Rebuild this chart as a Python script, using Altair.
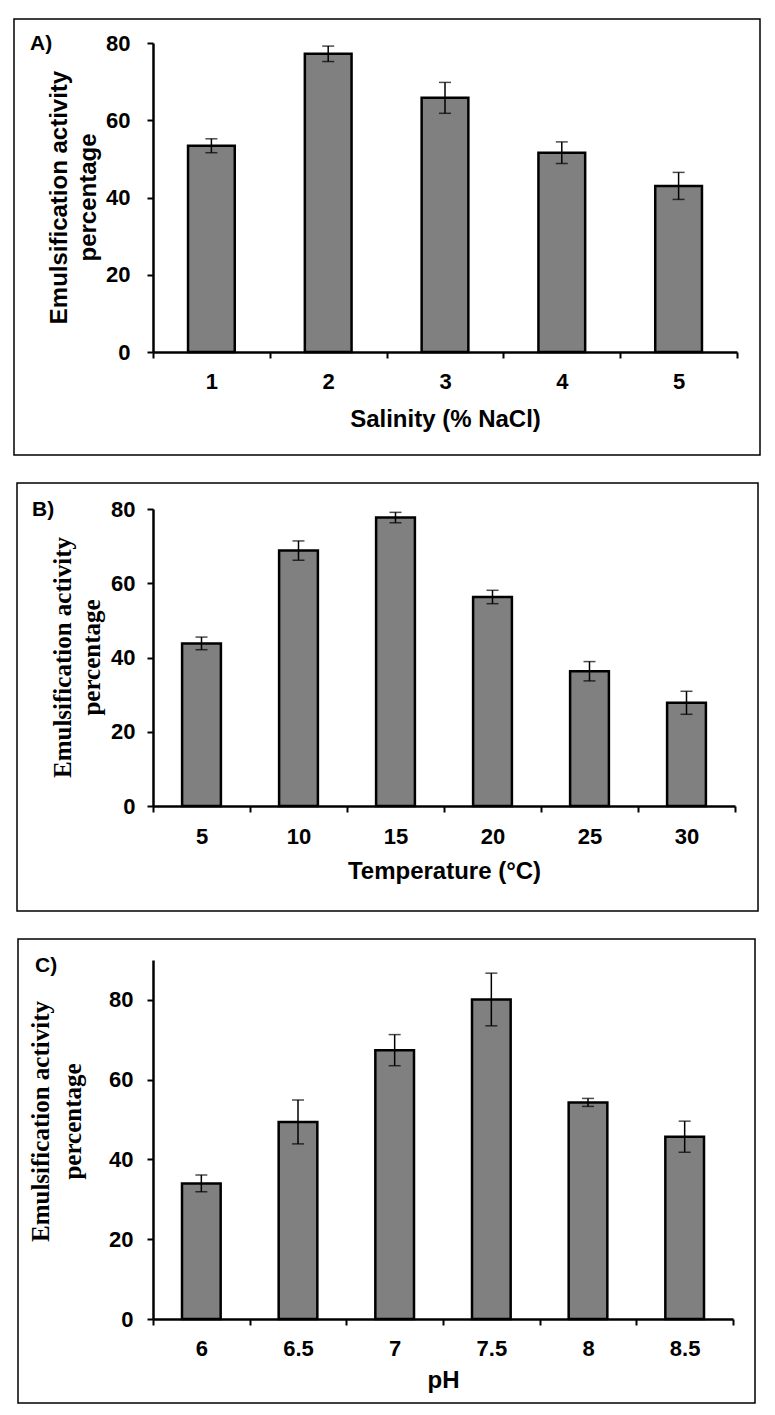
import altair as alt
import pandas as pd

# ---- data ----
sal_cats = ["1", "2", "3", "4", "5"]
sal_mean = [53.4, 77.2, 65.8, 51.6, 43.0]
sal_err = [1.8, 2.0, 4.0, 2.8, 3.5]

temp_cats = ["5", "10", "15", "20", "25", "30"]
temp_mean = [43.8, 68.8, 77.7, 56.3, 36.3, 27.8]
temp_err = [1.7, 2.6, 1.4, 1.8, 2.6, 3.1]

ph_cats = ["6", "6.5", "7", "7.5", "8", "8.5"]
ph_mean = [34.0, 49.4, 67.4, 80.1, 54.3, 45.7]
ph_err = [2.1, 5.5, 3.9, 6.6, 1.0, 3.9]

y_ticks = [0, 20, 40, 60, 80]
y_title = ["Emulsification activity", "percentage"]

SANS = "Liberation Sans, Arial, sans-serif"
SERIF = "Liberation Serif, Times New Roman, serif"


def panel(cats, means, errs, xtitle, ytfont, letter, w, h, ymax, g):
    df = pd.DataFrame({
        "cat": cats,
        "mean": means,
        "lo": [m - e for m, e in zip(means, errs)],
        "hi": [m + e for m, e in zip(means, errs)],
    })
    xscale = alt.Scale(domain=cats, paddingInner=0, paddingOuter=0)
    yscale = alt.Scale(domain=[0, ymax], nice=False, zero=True)
    xaxis = alt.Axis(
        title=xtitle, tickBand="extent", labelAngle=0,
        labelPadding=g["xlp"], titleY=g["xty"], titleBaseline="alphabetic",
    )
    yaxis = alt.Axis(
        title=y_title, values=y_ticks, titleFont=ytfont,
        titleFontSize=g["yfs"],
        titleX=g["ytx"], titleY=g["yty"], titleAngle=270,
        titleAlign="center", titleBaseline="middle", titleLineHeight=g["ylh"],
        labelPadding=g["ylp"],
    )

    def X():
        return alt.X("cat:N", sort=cats, scale=xscale, axis=xaxis)

    def Y(field):
        return alt.Y(field, type="quantitative", scale=yscale, axis=yaxis)

    base = alt.Chart(df)
    border = alt.Chart(pd.DataFrame({"k": [0]})).mark_rect(
        fillOpacity=0, stroke="black", strokeWidth=1.5
    ).encode(
        x=alt.value(g["bx"]), x2=alt.value(g["bx2"]),
        y=alt.value(g["by"]), y2=alt.value(g["by2"]),
    )
    bars = base.mark_bar(
        width=alt.RelativeBandSize(0.4), fill="#808080",
        stroke="black", strokeWidth=2.5,
    ).encode(x=X(), y=Y("mean"))
    rule = base.mark_rule(color="black", strokeWidth=1.5).encode(
        x=X(), y=Y("lo"), y2="hi:Q",
    )
    cap_lo = base.mark_tick(color="black", size=12, thickness=1.5).encode(
        x=X(), y=Y("lo"),
    )
    cap_hi = base.mark_tick(color="black", size=12, thickness=1.5).encode(
        x=X(), y=Y("hi"),
    )
    lab = alt.Chart(pd.DataFrame({"k": [0]})).mark_text(
        text=letter, align="left", baseline="alphabetic",
        font=SANS, fontSize=21, fontWeight="bold", color="black",
    ).encode(x=alt.value(g["lx"]), y=alt.value(g["ly"]))
    return alt.layer(border, bars, rule, cap_lo, cap_hi, lab).properties(
        width=w, height=h
    )


pA = panel(sal_cats, sal_mean, sal_err, "Salinity (% NaCl)", SANS, "A)",
           584, 309, 80,
           dict(xlp=13, xty=74, yfs=24, ytx=-94, yty=154, ylh=29, ylp=17,
                bx=-139, bx2=607, by=-24, by2=412, lx=-123, ly=7))
pB = panel(temp_cats, temp_mean, temp_err, "Temperature (°C)", SERIF, "B)",
           582, 297, 80,
           dict(xlp=14, xty=72, yfs=25, ytx=-91, yty=148, ylh=29, ylp=12,
                bx=-136, bx2=605, by=-26, by2=402, lx=-121, ly=7))
pC = panel(ph_cats, ph_mean, ph_err, "pH", SERIF, "C)",
           580, 359, 90,
           dict(xlp=13, xty=68, yfs=25, ytx=-113, yty=161, ylh=32, ylp=14,
                bx=-135, bx2=602, by=-21, by2=443, lx=-118, ly=12))

chart = alt.vconcat(pA, pB, pC, spacing=26).properties(
    padding={"left": 5, "top": 10, "right": 5, "bottom": 0}
).configure_view(stroke=None).configure_axis(
    domainColor="black", domainWidth=2.5,
    tickColor="black", tickWidth=2, tickSize=6,
    labelColor="black", labelFont=SANS, labelFontSize=22, labelFontWeight="bold",
    titleColor="black", titleFont=SANS, titleFontSize=24, titleFontWeight="bold",
    grid=False,
)

chart.save("out.html", embed_options={"renderer": "svg", "actions": False})
